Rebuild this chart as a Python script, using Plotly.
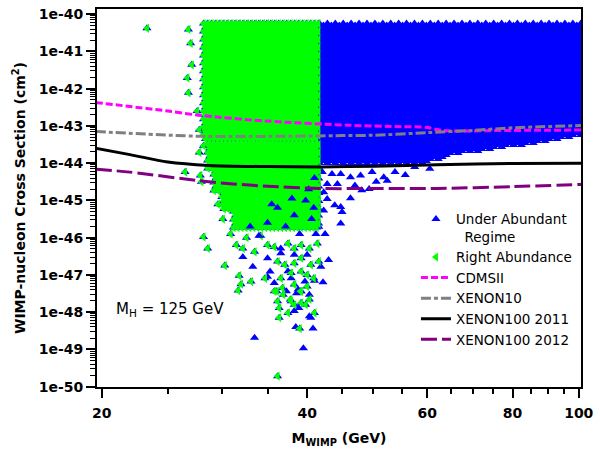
import numpy as np
import plotly.graph_objects as go

# ---------------- data ----------------
# Exclusion limit curves: WIMP mass (GeV) and log10(cross section / cm^2)
CDMS_X = [19.6, 25, 28, 35, 45.8, 55, 60, 63, 80, 101]
CDMS_LOG = [-42.37, -42.6, -42.72, -42.87, -42.98, -43.02, -43.04, -43.12, -43.12, -43.11]

X10_X = [19.6, 28, 35, 45, 50, 60, 70, 80, 101]
X10_LOG = [-43.15, -43.28, -43.28, -43.26, -43.25, -43.18, -43.12, -43.05, -42.99]

X11_X = [19.6, 22, 25, 28.7, 35, 42, 50, 62, 80, 101]
X11_LOG = [-43.60, -43.77, -43.97, -44.06, -44.09, -44.10, -44.08, -44.04, -44.01, -44.0]

X12_X = [19.6, 22, 28.7, 35, 42, 50, 62, 80, 101]
X12_LOG = [-44.16, -44.24, -44.50, -44.62, -44.68, -44.68, -44.68, -44.63, -44.57]

# Dense "Right Abundance" cloud: horizontal bands (log10 sigma) with left mass edge
GREEN_BAND_TOP = [-40.25, -43.5, -44.2, -44.8, -45.3]
GREEN_BAND_BOTTOM = [-43.5, -44.2, -44.8, -45.3, -45.85]
GREEN_BAND_LEFT = [28.2, 28.6, 29.2, 30.0, 31.2]
GREEN_RIGHT = 41.7

# Dense "Under Abundant" cloud above 41.7 GeV: top and lower-edge knots
BLUE_TOP = -40.25
BLUE_EDGE_X = [41.7, 50, 56, 60, 64, 70, 78, 87, 101]
BLUE_EDGE_LOG = [-44.0, -44.0, -44.0, -44.02, -43.8, -43.7, -43.58, -43.45, -43.26]

# Isolated "Right Abundance" points (GeV, log10 sigma)
GREEN_PTS_X = [23.3, 26.8, 27.0, 27.1, 26.7, 26.8, 26.5, 27.9, 27.8, 28.2, 28.2, 28.6,
               30.3, 31.8, 33.1, 32.0, 31.7, 36.1, 36.4, 37.5, 36.4, 39.0, 41.0, 39.8,
               38.3, 37.8, 39.1, 36.9, 36.2,
               31.5, 32.2, 33.5, 35.0, 35.8, 37.5, 38.3, 39.2, 40.3, 41.4,
               36.2, 37.1, 38.3, 39.2, 40.5, 41.6,
               34.7, 36.6, 37.9, 39.2, 40.0, 40.9,
               35.8, 36.8, 38.3, 39.2, 40.0,
               36.2, 37.9, 39.2, 40.3,
               27.6, 27.8, 28.0, 29.6, 30.1, 30.9, 32.6, 34.2]
GREEN_PTS_LOG = [-40.38, -40.41, -40.78, -41.36, -41.71, -42.11, -44.24, -44.33, -43.71,
                 -43.53, -45.98, -46.29, -46.75, -47.02, -47.18, -47.25, -47.42, -47.44,
                 -47.89, -48.02, -48.15, -48.44, -48.02, -47.80, -47.80, -47.66, -47.44,
                 -47.53, -49.72,
                 -46.20, -46.29, -46.38, -46.20, -46.25, -46.16, -46.29, -46.20, -46.29, -46.16,
                 -46.64, -46.73, -46.69, -46.55, -46.73, -46.64,
                 -47.09, -47.09, -46.95, -46.91, -47.00, -47.09,
                 -47.44, -47.35, -47.26, -47.44, -47.31,
                 -47.71, -47.71, -47.75, -47.66,
                 -42.6, -43.1, -44.5, -45.1, -45.5, -45.9, -46.0, -45.95]

# Isolated "Under Abundant" points (GeV, log10 sigma)
BLUE_PTS_X = [32.2, 33.3, 33.5, 39.5, 40.8, 38.5, 36.6, 41.9, 41.0, 40.5, 38.8, 37.5, 35.0,
              42.1, 43.5, 44.8, 46.3, 47.9, 49.8, 51.8, 52.4, 53.8, 55.7, 42.8, 44.3,
              48.1, 49.3, 42.3, 42.8, 46.3, 43.9, 44.8, 42.3, 45.0, 44.8, 41.6, 42.5,
              43.0, 42.2, 57.5, 60.5, 50.5, 47.0,
              35.3, 35.8, 37.9, 39.7, 37.3, 38.6, 40.3, 38.3, 38.9, 40.3, 36.6, 35.0,
              38.3, 40.0]
BLUE_PTS_LOG = [-46.52, -46.78, -48.69, -48.97, -48.44, -48.40, -46.42, -46.78, -47.16,
                -48.15, -47.39, -46.9, -47.05, -44.24, -44.29, -44.29, -44.38, -44.33,
                -44.24, -44.38, -44.47, -44.24, -44.32, -44.56, -44.56, -44.73, -44.69,
                -44.78, -44.96, -44.94, -45.13, -45.18, -45.27, -45.31, -45.62, -45.71,
                -45.9, -46.6, -47.2, -44.1, -44.15, -44.5, -44.6,
                -46.91, -47.22, -47.09, -47.18, -47.44, -47.49, -47.53, -47.97, -47.89,
                -48.11, -46.29, -46.55, -46.46, -46.46]

# Blue points visible on top of the lower green cloud
BLUE_TOP_PTS_X = [36.2, 38.3, 39.8, 40.6, 37.2, 39.0, 40.9, 35.0, 41.2, 38.0, 34.0, 40.2,
                  33.0, 35.5, 41.0]
BLUE_TOP_PTS_LOG = [-45.2, -45.4, -45.0, -45.5, -45.7, -45.9, -45.2, -45.6, -45.9, -44.95,
                    -45.95, -44.7, -45.7, -45.1, -44.4]

MH_LABEL = "M<sub>H</sub> = 125 GeV"
Y_TICK_VALS = [10.0 ** e for e in range(-50, -39)]
Y_TICK_TEXT = ["1e%d" % e for e in range(-50, -39)]
X_TICK_VALS = [20, 40, 60, 80, 100]
X_MINOR_VALS = [25, 30, 35, 45, 50, 55, 65, 70, 75, 85, 90, 95]
Y_MINOR_VALS = [m * 10.0 ** e for e in range(-51, -39) for m in range(2, 10)]

# ---------------- build dense clouds as marker grids ----------------
DLX = 0.0058   # grid step in log10(mass)
DLY = 0.107    # grid step in log10(sigma)

gx, gy = [], []
row = 0
for top, bot, left in zip(GREEN_BAND_TOP, GREEN_BAND_BOTTOM, GREEN_BAND_LEFT):
    nrows = int(round((top - bot) / DLY))
    for r in range(nrows):
        yy = top - r * DLY
        lx = np.log10(left) + (DLX / 2 if row % 2 else 0.0)
        while lx <= np.log10(GREEN_RIGHT) + 1e-9:
            gx.append(10 ** lx)
            gy.append(yy)
            lx += DLX
        row += 1

bx, by = [], []
lx = np.log10(GREEN_RIGHT)
c = 0
while lx <= np.log10(101):
    bottom = np.interp(lx, np.log10(BLUE_EDGE_X), BLUE_EDGE_LOG)
    y = BLUE_TOP - (DLY / 2 if c % 2 else 0)
    while y >= bottom:
        bx.append(10 ** lx)
        by.append(y)
        y -= DLY
    lx += DLX
    c += 1

green_x = gx + GREEN_PTS_X
green_y = [10.0 ** v for v in gy + GREEN_PTS_LOG]
blue_x = bx + BLUE_PTS_X + green_x
blue_y = [10.0 ** v for v in by + BLUE_PTS_LOG] + green_y

BLUE = "#0000ff"
GREEN = "#00ff00"

fig = go.Figure()
fig.add_trace(go.Scatter(
    x=blue_x, y=blue_y, mode="markers", name="Under Abundant<br>\u00a0\u00a0Regime",
    marker=dict(symbol="triangle-up", size=8, color=BLUE, line=dict(width=0))))
fig.add_trace(go.Scatter(
    x=green_x, y=green_y, mode="markers", name="Right Abundance",
    marker=dict(symbol="triangle-left", size=8, color=GREEN, line=dict(width=0))))
fig.add_trace(go.Scatter(
    x=BLUE_TOP_PTS_X, y=[10.0 ** v for v in BLUE_TOP_PTS_LOG], mode="markers",
    showlegend=False, hoverinfo="skip",
    marker=dict(symbol="triangle-up", size=8, color=BLUE, line=dict(width=0))))

lines = [
    (CDMS_X, CDMS_LOG, "CDMSII", "#ff00ff", "7px,3px"),
    (X10_X, X10_LOG, "XENON10", "#808080", "10px,3px,4px,3px"),
    (X11_X, X11_LOG, "XENON100 2011", "#000000", "solid"),
    (X12_X, X12_LOG, "XENON100 2012", "#800080", "16px,5px"),
]
for xs, ls, name, col, dash in lines:
    fig.add_trace(go.Scatter(
        x=xs, y=[10.0 ** v for v in ls], mode="lines", name=name,
        line=dict(color=col, width=3, dash=dash, shape="spline", smoothing=0.8)))

fig.add_annotation(x=np.log10(20.85), y=-47.92, xref="x", yref="y", text=MH_LABEL,
                   showarrow=False, xanchor="left", yanchor="middle",
                   font=dict(family="DejaVu Sans", size=15, color="black"))

tick_font = dict(family="DejaVu Sans", size=14, color="black", weight="bold")
fig.update_layout(
    width=600, height=454,
    margin=dict(l=97, r=13, t=6, b=67),
    paper_bgcolor="white", plot_bgcolor="white",
    font=dict(family="DejaVu Sans", size=14, color="black"),
    showlegend=True,
    legend=dict(x=0.659, y=0.485, xanchor="left", yanchor="top",
                bgcolor="rgba(0,0,0,0)", font=dict(family="DejaVu Sans", size=13.5),
                valign="top", tracegroupgap=0, itemwidth=30),
    xaxis=dict(type="log", range=[1.2942, 2.0033],
               tickmode="array", tickvals=X_TICK_VALS,
               ticktext=[str(v) for v in X_TICK_VALS],
               ticks="outside", ticklen=9, tickwidth=1.5, tickcolor="black",
               minor=dict(tickmode="array", tickvals=X_MINOR_VALS, ticks="outside",
                          ticklen=5, tickwidth=1.5, tickcolor="black"),
               showline=True, linecolor="black", linewidth=2, mirror=True,
               showgrid=False, zeroline=False, tickfont=tick_font, ticklabelstandoff=3,
               title=dict(text="M<sub>WIMP</sub> (GeV)", standoff=13,
                          font=dict(family="DejaVu Sans", size=14, weight="bold"))),
    yaxis=dict(type="log", range=[-50.01, -39.86],
               tickmode="array", tickvals=Y_TICK_VALS, ticktext=Y_TICK_TEXT,
               ticks="outside", ticklen=9, tickwidth=1.5, tickcolor="black",
               minor=dict(tickmode="array", tickvals=Y_MINOR_VALS, ticks="outside",
                          ticklen=5, tickwidth=1, tickcolor="black"),
               showline=True, linecolor="black", linewidth=2, mirror=True,
               showgrid=False, zeroline=False, tickfont=tick_font,
               title=dict(text="WIMP-nucleon Cross Section (cm<sup>2</sup>)", standoff=10,
                          font=dict(family="DejaVu Sans", size=14, weight="bold"))),
)

fig.write_html("out.html")
